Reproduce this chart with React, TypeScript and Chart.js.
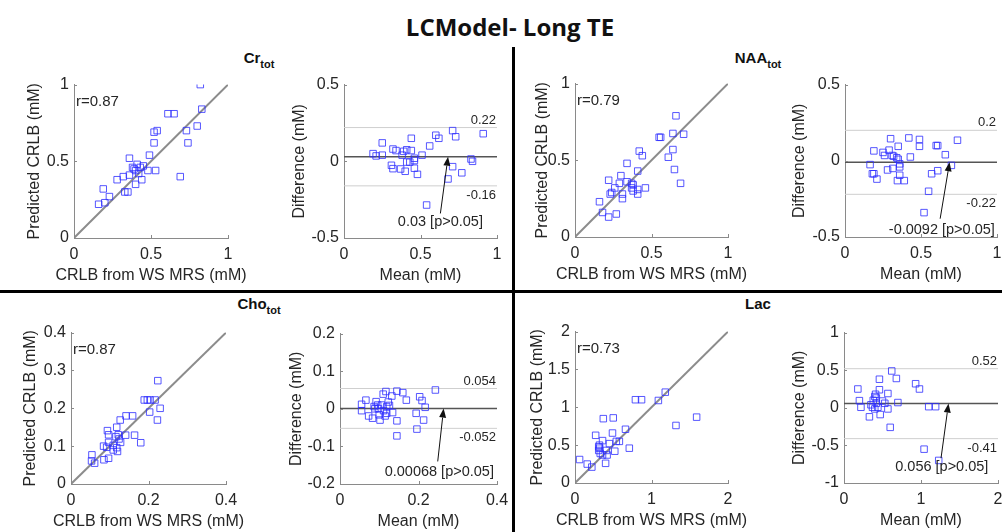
import React, { useEffect, useRef } from 'react';
import { Chart, registerables } from 'chart.js';

Chart.register(...registerables);

// ---------------- DATA ----------------
// Cr_tot
const crWs = [0.82, 0.83, 0.61, 0.65, 0.52, 0.54, 0.73, 0.80, 0.74, 0.52, 0.49, 0.36, 0.53, 0.48, 0.45, 0.41, 0.38, 0.40, 0.69, 0.28, 0.32, 0.36, 0.40, 0.44, 0.33, 0.35, 0.19, 0.23, 0.16, 0.20, 0.39, 0.42, 0.43];
const crPred = [1.0, 0.84, 0.81, 0.81, 0.69, 0.70, 0.70, 0.73, 0.62, 0.62, 0.54, 0.52, 0.44, 0.44, 0.47, 0.48, 0.46, 0.44, 0.40, 0.38, 0.40, 0.41, 0.35, 0.38, 0.30, 0.30, 0.32, 0.27, 0.22, 0.23, 0.45, 0.42, 0.46];
const crMean = [0.25, 0.19, 0.21, 0.25, 0.32, 0.34, 0.38, 0.39, 0.41, 0.44, 0.44, 0.56, 0.51, 0.60, 0.62, 0.71, 0.73, 0.91, 0.46, 0.46, 0.41, 0.43, 0.31, 0.32, 0.37, 0.40, 0.46, 0.48, 0.71, 0.68, 0.77, 0.83, 0.84, 0.54];
const crDiff = [0.12, 0.05, 0.035, 0.04, 0.08, 0.07, 0.04, 0.065, 0.075, 0.07, 0.15, 0.10, 0.04, 0.17, 0.15, 0.20, 0.16, 0.18, 0.02, 0.005, -0.005, -0.005, -0.026, -0.048, -0.05, -0.065, -0.045, -0.085, -0.035, -0.115, -0.075, 0.015, 0.0, -0.285];

// NAA_tot
const naaWs = [0.66, 0.55, 0.56, 0.64, 0.71, 0.64, 0.61, 0.65, 0.69, 0.42, 0.44, 0.41, 0.34, 0.30, 0.22, 0.26, 0.29, 0.34, 0.37, 0.38, 0.37, 0.41, 0.46, 0.38, 0.31, 0.41, 0.31, 0.23, 0.24, 0.16, 0.18, 0.22, 0.27];
const naaPred = [0.79, 0.65, 0.65, 0.675, 0.67, 0.57, 0.52, 0.44, 0.35, 0.56, 0.53, 0.43, 0.48, 0.40, 0.37, 0.32, 0.35, 0.36, 0.35, 0.34, 0.32, 0.31, 0.32, 0.30, 0.28, 0.28, 0.25, 0.28, 0.29, 0.23, 0.16, 0.13, 0.15];
const naaMean = [0.165, 0.18, 0.19, 0.21, 0.19, 0.25, 0.26, 0.29, 0.30, 0.31, 0.32, 0.28, 0.315, 0.34, 0.35, 0.35, 0.36, 0.36, 0.36, 0.345, 0.39, 0.42, 0.43, 0.49, 0.49, 0.60, 0.61, 0.66, 0.74, 0.70, 0.57, 0.61, 0.55, 0.52];
const naaDiff = [-0.025, -0.085, -0.085, -0.12, 0.065, 0.055, 0.035, 0.07, 0.145, 0.035, 0.03, -0.06, -0.05, 0.02, 0.01, 0.095, -0.02, -0.04, -0.095, -0.13, -0.13, 0.15, 0.025, 0.14, 0.095, 0.10, 0.10, 0.04, 0.135, -0.03, -0.085, -0.065, -0.20, -0.34];

// Cho_tot
const choWs = [0.224, 0.189, 0.197, 0.204, 0.217, 0.230, 0.203, 0.223, 0.142, 0.159, 0.127, 0.118, 0.094, 0.097, 0.164, 0.180, 0.141, 0.122, 0.116, 0.124, 0.097, 0.128, 0.109, 0.084, 0.092, 0.118, 0.120, 0.109, 0.097, 0.085, 0.054, 0.053, 0.061];
const choPred = [0.273, 0.222, 0.222, 0.222, 0.222, 0.200, 0.190, 0.169, 0.180, 0.180, 0.169, 0.150, 0.141, 0.130, 0.129, 0.109, 0.129, 0.130, 0.125, 0.119, 0.110, 0.110, 0.102, 0.100, 0.097, 0.096, 0.086, 0.090, 0.068, 0.064, 0.077, 0.061, 0.055];
const choMean = [0.055, 0.055, 0.066, 0.073, 0.083, 0.092, 0.087, 0.089, 0.098, 0.096, 0.106, 0.100, 0.102, 0.111, 0.115, 0.110, 0.117, 0.119, 0.119, 0.123, 0.126, 0.132, 0.134, 0.145, 0.145, 0.145, 0.160, 0.169, 0.194, 0.196, 0.203, 0.209, 0.217, 0.213, 0.243];
const choDiff = [0.012, -0.005, 0.023, -0.019, -0.025, 0.019, 0.006, 0.0, 0.0, 0.01, 0.01, -0.016, -0.03, -0.005, -0.019, 0.039, 0.046, 0.006, -0.012, 0.018, 0.009, 0.034, -0.01, 0.047, -0.032, -0.072, 0.043, 0.023, -0.012, -0.054, 0.032, 0.022, 0.004, -0.03, 0.05];

// Lac
const lacWs = [0.06, 0.16, 0.22, 0.27, 0.37, 0.50, 0.31, 0.32, 0.32, 0.36, 0.31, 0.33, 0.36, 0.41, 0.42, 0.40, 0.45, 0.49, 0.52, 0.58, 0.66, 0.71, 0.79, 0.87, 1.09, 1.18, 1.32, 1.59, 0.54];
const lacPred = [0.31, 0.25, 0.21, 0.63, 0.85, 0.86, 0.48, 0.46, 0.50, 0.56, 0.43, 0.39, 0.37, 0.43, 0.37, 0.26, 0.52, 0.66, 0.42, 0.55, 0.71, 0.46, 1.10, 1.10, 1.09, 1.20, 0.76, 0.87, 0.55];
const lacMean = [0.18, 0.20, 0.22, 0.33, 0.35, 0.37, 0.38, 0.40, 0.41, 0.42, 0.42, 0.40, 0.44, 0.46, 0.46, 0.47, 0.50, 0.53, 0.57, 0.57, 0.60, 0.62, 0.68, 0.70, 0.93, 0.98, 1.10, 1.19, 1.04, 1.23];
const lacDiff = [0.25, 0.095, 0.007, -0.12, 0.04, 0.007, 0.10, 0.15, 0.18, 0.13, 0.06, -0.015, 0.007, 0.24, 0.38, -0.09, 0.09, 0.06, 0.19, -0.015, -0.26, 0.49, 0.39, 0.07, 0.32, 0.25, 0.015, 0.015, -0.55, -0.70];

// statistics (Cr, NAA, Cho, Lac)
const rLabels = ['r=0.87', 'r=0.79', 'r=0.87', 'r=0.73'];
const biasValues = [0.03, -0.0092, 0.00068, 0.056];
const upperLoA = [0.22, 0.2, 0.054, 0.52];
const lowerLoA = [-0.16, -0.22, -0.052, -0.41];
const biasLabels = ['0.03 [p>0.05]', '-0.0092 [p>0.05]', '0.00068 [p>0.05]', '0.056 [p>0.05]'];
const upperLabels = ['0.22', '0.2', '0.054', '0.52'];
const lowerLabels = ['-0.16', '-0.22', '-0.052', '-0.41'];

// ticks
const ticks01 = [0, 0.5, 1];
const ticks01Labels = ['0', '0.5', '1'];
const ticksHalf = [-0.5, 0, 0.5];
const ticksHalfLabels = ['-0.5', '0', '0.5'];
const ticksCho = [0, 0.2, 0.4];
const ticksChoLabels = ['0', '0.2', '0.4'];
const ticksChoY = [0, 0.1, 0.2, 0.3, 0.4];
const ticksChoYLabels = ['0', '0.1', '0.2', '0.3', '0.4'];
const ticksChoBA = [-0.2, -0.1, 0, 0.1, 0.2];
const ticksChoBALabels = ['-0.2', '-0.1', '0', '0.1', '0.2'];
const ticksLac = [0, 1, 2];
const ticksLacLabels = ['0', '1', '2'];
const ticksLacY = [0, 0.5, 1, 1.5, 2];
const ticksLacYLabels = ['0', '0.5', '1', '1.5', '2'];
const ticksLacBA = [-1, -0.5, 0, 0.5, 1];
const ticksLacBALabels = ['-1', '-0.5', '0', '0.5', '1'];

const mainTitle = 'LCModel- Long TE';
const metabolites = [['Cr', 'tot'], ['NAA', 'tot'], ['Cho', 'tot'], ['Lac', '']];
const scatterXTitle = 'CRLB from WS MRS (mM)';
const scatterYTitle = 'Predicted CRLB (mM)';
const baXTitle = 'Mean (mM)';
const baYTitle = 'Difference (mM)';

// ---------------- STYLE ----------------
const FONT = "'Liberation Sans', Arial, sans-serif";
const TEXT = '#262626';
const AXIS = '#8a8a8a';
const MARK = 'rgba(45,45,255,0.8)';

type Spec = {
  kind: 'scatter' | 'ba';
  box: number[]; // plot area left, top, right, bottom (layout)
  yTitleX: number;
  xs: number[];
  ys: number[];
  xTicks: number[];
  xLabels: string[];
  yTicks: number[];
  yLabels: string[];
  xTitle: string;
  yTitle: string;
  idx: number;
  textAt?: number[];
  arrowFrom?: number[];
  arrowTo?: number[];
};

const specs: Spec[] = [
  { kind: 'scatter', box: [74, 84, 228, 238], yTitleX: 35, xs: crWs, ys: crPred, xTicks: ticks01, xLabels: ticks01Labels, yTicks: ticks01, yLabels: ticks01Labels, xTitle: scatterXTitle, yTitle: scatterYTitle, idx: 0 },
  { kind: 'ba', box: [344, 84, 497, 238], yTitleX: 300, xs: crMean, ys: crDiff, xTicks: ticks01, xLabels: ticks01Labels, yTicks: ticksHalf, yLabels: ticksHalfLabels, xTitle: baXTitle, yTitle: baYTitle, idx: 0, textAt: [0.63, -0.395], arrowFrom: [0.63, -0.34], arrowTo: [0.68, 0.03] },
  { kind: 'scatter', box: [575, 83, 728, 237], yTitleX: 543, xs: naaWs, ys: naaPred, xTicks: ticks01, xLabels: ticks01Labels, yTicks: ticks01, yLabels: ticks01Labels, xTitle: scatterXTitle, yTitle: scatterYTitle, idx: 1 },
  { kind: 'ba', box: [845, 84, 997, 237], yTitleX: 800, xs: naaMean, ys: naaDiff, xTicks: ticks01, xLabels: ticks01Labels, yTicks: ticksHalf, yLabels: ticksHalfLabels, xTitle: baXTitle, yTitle: baYTitle, idx: 1, textAt: [0.637, -0.452], arrowFrom: [0.626, -0.38], arrowTo: [0.688, -0.0092] },
  { kind: 'scatter', box: [71, 332, 226, 484], yTitleX: 31, xs: choWs, ys: choPred, xTicks: ticksCho, xLabels: ticksChoLabels, yTicks: ticksChoY, yLabels: ticksChoYLabels, xTitle: scatterXTitle, yTitle: scatterYTitle, idx: 2 },
  { kind: 'ba', box: [340, 333, 497, 484], yTitleX: 297, xs: choMean, ys: choDiff, xTicks: ticksCho, xLabels: ticksChoLabels, yTicks: ticksChoBA, yLabels: ticksChoBALabels, xTitle: baXTitle, yTitle: baYTitle, idx: 2, textAt: [0.253, -0.169], arrowFrom: [0.249, -0.14], arrowTo: [0.264, 0.00068] },
  { kind: 'scatter', box: [575, 331, 728, 483], yTitleX: 538, xs: lacWs, ys: lacPred, xTicks: ticksLac, xLabels: ticksLacLabels, yTicks: ticksLacY, yLabels: ticksLacYLabels, xTitle: scatterXTitle, yTitle: scatterYTitle, idx: 3 },
  { kind: 'ba', box: [844, 332, 998, 483], yTitleX: 800, xs: lacMean, ys: lacDiff, xTicks: ticksLac, xLabels: ticksLacLabels, yTicks: ticksLacBA, yLabels: ticksLacBALabels, xTitle: baXTitle, yTitle: baYTitle, idx: 3, textAt: [1.27, -0.79], arrowFrom: [1.26, -0.67], arrowTo: [1.357, 0.056] },
];

const PAD_TOP = 14;
const PAD_RIGHT = 32;
const X_AXIS_H = 47;
const Y_TITLE_OFF = 10; // distance from canvas left edge to y-title centre

function makeOverlay(spec: Spec) {
  return {
    id: 'overlay',
    afterDatasetsDraw(chart: any) {
      const { ctx, chartArea } = chart;
      const sx = chart.scales.x;
      const sy = chart.scales.y;
      ctx.save();
      // inward tick marks
      ctx.strokeStyle = AXIS;
      ctx.lineWidth = 1;
      sx.ticks.forEach((t: any) => {
        const px = Math.round(sx.getPixelForValue(t.value)) + 0.5;
        ctx.beginPath();
        ctx.moveTo(px, chartArea.bottom);
        ctx.lineTo(px, chartArea.bottom - 3);
        ctx.stroke();
      });
      sy.ticks.forEach((t: any) => {
        const py = Math.round(sy.getPixelForValue(t.value)) + 0.5;
        ctx.beginPath();
        ctx.moveTo(chartArea.left, py);
        ctx.lineTo(chartArea.left + 3, py);
        ctx.stroke();
      });
      // axis titles (drawn at full width, like the original)
      ctx.fillStyle = TEXT;
      ctx.font = `16px ${FONT}`;
      ctx.textAlign = 'center';
      ctx.textBaseline = 'middle';
      ctx.fillText(spec.xTitle, (chartArea.left + chartArea.right) / 2, chartArea.bottom + 37.5);
      ctx.save();
      ctx.translate(Y_TITLE_OFF, (chartArea.top + chartArea.bottom) / 2);
      ctx.rotate(-Math.PI / 2);
      ctx.fillText(spec.yTitle, 0, 0);
      ctx.restore();

      if (spec.kind === 'scatter') {
        ctx.font = `15px ${FONT}`;
        ctx.textAlign = 'left';
        ctx.textBaseline = 'middle';
        ctx.fillText(rLabels[spec.idx], chartArea.left + 2, chartArea.top + 17);
      } else {
        const i = spec.idx;
        ctx.font = `13px ${FONT}`;
        ctx.textAlign = 'right';
        ctx.textBaseline = 'bottom';
        ctx.fillText(upperLabels[i], chartArea.right - 1, sy.getPixelForValue(upperLoA[i]) - 1);
        ctx.textBaseline = 'top';
        ctx.fillText(lowerLabels[i], chartArea.right - 1, sy.getPixelForValue(lowerLoA[i]) + 3);
        // annotation
        ctx.font = `14.5px ${FONT}`;
        ctx.textAlign = 'center';
        ctx.textBaseline = 'middle';
        const ta = spec.textAt!;
        ctx.fillText(biasLabels[i], sx.getPixelForValue(ta[0]), sy.getPixelForValue(ta[1]));
        const x0 = sx.getPixelForValue(spec.arrowFrom![0]);
        const y0 = sy.getPixelForValue(spec.arrowFrom![1]);
        const x1 = sx.getPixelForValue(spec.arrowTo![0]);
        const y1 = sy.getPixelForValue(spec.arrowTo![1]);
        const ang = Math.atan2(y1 - y0, x1 - x0);
        const hl = 9;
        const hw = 3.5;
        const bx = x1 - hl * Math.cos(ang);
        const by = y1 - hl * Math.sin(ang);
        ctx.strokeStyle = '#111';
        ctx.lineWidth = 1;
        ctx.beginPath();
        ctx.moveTo(x0, y0);
        ctx.lineTo(bx, by);
        ctx.stroke();
        ctx.fillStyle = '#111';
        ctx.beginPath();
        ctx.moveTo(x1, y1);
        ctx.lineTo(bx + hw * Math.sin(ang), by - hw * Math.cos(ang));
        ctx.lineTo(bx - hw * Math.sin(ang), by + hw * Math.cos(ang));
        ctx.closePath();
        ctx.fill();
      }
      ctx.restore();
    },
  };
}

function Panel({ spec }: { spec: Spec }) {
  const ref = useRef<HTMLCanvasElement | null>(null);
  const [l, t, r, b] = spec.box;
  const cl = spec.yTitleX - Y_TITLE_OFF;
  const ct = t - PAD_TOP;
  const cw = Math.round(r + PAD_RIGHT - cl);
  const ch = Math.round(b + X_AXIS_H - ct);
  const yAxisW = l - cl;

  useEffect(() => {
    if (!ref.current) return;
    const xMin = spec.xTicks[0];
    const xMax = spec.xTicks[spec.xTicks.length - 1];
    const yMin = spec.yTicks[0];
    const yMax = spec.yTicks[spec.yTicks.length - 1];
    const pts = spec.xs.map((x, i) => ({ x, y: spec.ys[i] }));
    const datasets: any[] = [
      {
        data: pts,
        pointStyle: 'rect',
        pointRadius: 4.6,
        pointBorderWidth: 1,
        pointBorderColor: MARK,
        pointBackgroundColor: 'rgba(0,0,0,0)',
        showLine: false,
      },
    ];
    if (spec.kind === 'scatter') {
      datasets.push({
        data: [{ x: xMin, y: yMin }, { x: xMax, y: yMax }],
        showLine: true,
        borderColor: '#8c8c8c',
        borderWidth: 2,
        pointRadius: 0,
      });
    } else {
      const i = spec.idx;
      datasets.push({
        data: [{ x: xMin, y: biasValues[i] }, { x: xMax, y: biasValues[i] }],
        showLine: true,
        borderColor: '#555555',
        borderWidth: 1.5,
        pointRadius: 0,
      });
      [upperLoA[i], lowerLoA[i]].forEach((v) =>
        datasets.push({
          data: [{ x: xMin, y: v }, { x: xMax, y: v }],
          showLine: true,
          borderColor: '#cfcfcf',
          borderWidth: 1,
          pointRadius: 0,
        })
      );
    }
    const tickFont = { family: FONT, size: 16 };
    const chart = new Chart(ref.current, {
      type: 'scatter',
      data: { datasets },
      plugins: [makeOverlay(spec) as any],
      options: {
        responsive: false,
        animation: false,
        devicePixelRatio: 1,
        layout: { padding: { top: PAD_TOP, right: PAD_RIGHT, left: 0, bottom: 0 } },
        plugins: { legend: { display: false }, tooltip: { enabled: false } },
        scales: {
          x: {
            type: 'linear',
            min: xMin,
            max: xMax,
            grid: { display: false, drawTicks: false },
            border: { display: true, color: AXIS, width: 1 },
            afterBuildTicks: (s: any) => {
              s.ticks = spec.xTicks.map((v) => ({ value: v }));
            },
            afterFit: (s: any) => {
              s.height = X_AXIS_H;
            },
            ticks: {
              padding: 7,
              color: TEXT,
              font: tickFont,
              maxRotation: 0,
              autoSkip: false,
              callback: (_v: any, i: number) => spec.xLabels[i],
            },
            title: { display: false },
          },
          y: {
            type: 'linear',
            min: yMin,
            max: yMax,
            grid: { display: false, drawTicks: false },
            border: { display: true, color: AXIS, width: 1 },
            afterBuildTicks: (s: any) => {
              s.ticks = spec.yTicks.map((v) => ({ value: v }));
            },
            afterFit: (s: any) => {
              s.width = yAxisW;
            },
            ticks: {
              padding: 5,
              color: TEXT,
              font: tickFont,
              autoSkip: false,
              callback: (_v: any, i: number) => spec.yLabels[i],
            },
            title: { display: false },
          },
        },
      } as any,
    });
    return () => chart.destroy();
  }, []);

  return (
    <canvas
      ref={ref}
      width={cw}
      height={ch}
      style={{ position: 'absolute', left: cl, top: ct, width: cw, height: ch }}
    />
  );
}

function Subtitle({ name, sub, left, width, top }: { name: string; sub: string; left: number; width: number; top: number }) {
  return (
    <div
      style={{
        position: 'absolute',
        left,
        width,
        top,
        textAlign: 'center',
        font: `bold 15px ${FONT}`,
        lineHeight: '17px',
        color: '#111',
        whiteSpace: 'nowrap',
      }}
    >
      {name}
      {sub ? (
        <span style={{ fontSize: 11, verticalAlign: '-5px', lineHeight: 0 }}>{sub}</span>
      ) : null}
    </div>
  );
}

export default function App() {
  useEffect(() => {
    document.body.style.margin = '0';
    document.body.style.overflow = 'hidden';
  }, []);
  return (
    <div
      style={{
        position: 'fixed',
        left: 0,
        top: 0,
        width: 1002,
        height: 532,
        overflow: 'hidden',
        background: '#ffffff',
      }}
    >
      <div
        style={{
          position: 'absolute',
          left: 210,
          width: 600,
          top: 10,
          lineHeight: '30px',
          textAlign: 'center',
          font: `bold 24px 'Open Sans', 'Noto Sans', sans-serif`,
          color: '#111',
        }}
      >
        {mainTitle}
      </div>
      <Subtitle name={metabolites[0][0]} sub={metabolites[0][1]} left={0} width={518} top={49} />
      <Subtitle name={metabolites[1][0]} sub={metabolites[1][1]} left={514} width={488} top={49} />
      <Subtitle name={metabolites[2][0]} sub={metabolites[2][1]} left={0} width={518} top={295} />
      <Subtitle name={metabolites[3][0]} sub={metabolites[3][1]} left={514} width={488} top={295} />
      {specs.map((s, i) => (
        <Panel key={i} spec={s} />
      ))}
      <div style={{ position: 'absolute', left: 0, top: 290, width: 1002, height: 3, background: '#000' }} />
      <div style={{ position: 'absolute', left: 512, top: 47, width: 3, height: 485, background: '#000' }} />
    </div>
  );
}
